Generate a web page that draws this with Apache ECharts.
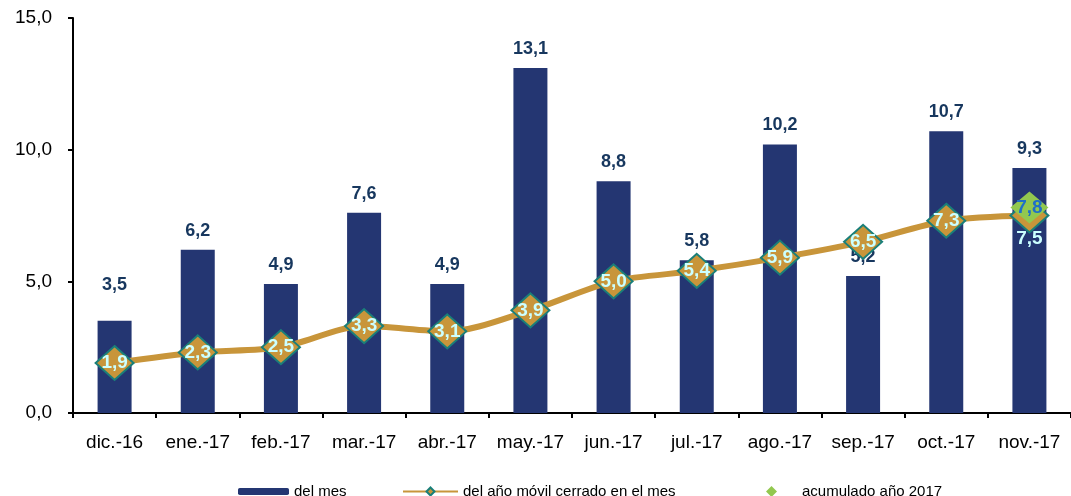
<!DOCTYPE html>
<html>
<head>
<meta charset="utf-8">
<script src="https://cdn.jsdelivr.net/npm/echarts@6/dist/echarts.min.js"></script>
<style>
  html, body { margin: 0; padding: 0; background: #fff; }
  #main { width: 1071px; height: 496px; }
</style>
</head>
<body>
<div id="main"></div>
<script>
// datos
const meses = ['dic.-16', 'ene.-17', 'feb.-17', 'mar.-17', 'abr.-17', 'may.-17', 'jun.-17', 'jul.-17', 'ago.-17', 'sep.-17', 'oct.-17', 'nov.-17']
const delMes = [3.5, 6.2, 4.9, 7.6, 4.9, 13.1, 8.8, 5.8, 10.2, 5.2, 10.7, 9.3]
const anoMovil = [1.9, 2.3, 2.5, 3.3, 3.1, 3.9, 5.0, 5.4, 5.9, 6.5, 7.3, 7.5]
const acumuladoMes = 'nov.-17'
const acumuladoValor = 7.8
const yTicks = [0, 5, 10, 15]

const coma = v => Number(v).toFixed(1).replace('.', ',')
const FONT = 'Liberation Sans, Arial, sans-serif'

const myChart = echarts.init(document.getElementById('main'))

// barras: la primera etiqueta va un poco mas arriba (como en el original)
const barData = delMes.map((v, i) => i === 0 ? { value: v, label: { offset: [0, -17] } } : v)
// linea: la ultima etiqueta va debajo del rombo
const lineData = anoMovil.map((v, i) => i === anoMovil.length - 1
  ? { value: v, label: { position: 'bottom', distance: -4 } }
  : v)

myChart.setOption({
  backgroundColor: '#fff',
  animation: false,
  textStyle: { fontFamily: FONT },
  grid: { left: 73, right: -5, top: 18, bottom: 83, containLabel: false },
  legend: [
    {
      data: ['del mes'], left: 233, top: 479, itemWidth: 51, itemHeight: 7, itemGap: 5,
      textStyle: { fontSize: 15, color: '#000', fontFamily: FONT }
    },
    {
      data: ['del año móvil cerrado en el mes'], left: 397, top: 479, itemWidth: 55, itemHeight: 10,
      textStyle: { fontSize: 15, color: '#000', fontFamily: FONT }
    },
    {
      data: ['acumulado año 2017'], left: 761, top: 479, itemWidth: 11, itemHeight: 11,
      textStyle: { fontSize: 15, color: '#000', fontFamily: FONT, padding: [0, 0, 0, 20] }
    }
  ],
  xAxis: {
    type: 'category',
    data: meses,
    axisLine: { lineStyle: { color: '#000', width: 2 } },
    axisTick: { show: true, length: 5, lineStyle: { color: '#000', width: 2 } },
    axisLabel: { interval: 0, color: '#000', fontSize: 19, margin: 20, fontFamily: FONT }
  },
  yAxis: {
    type: 'value',
    min: yTicks[0],
    max: yTicks[yTicks.length - 1],
    interval: yTicks[1] - yTicks[0],
    axisLine: { show: true, lineStyle: { color: '#000', width: 2 } },
    axisTick: { show: true, length: 5, lineStyle: { color: '#000', width: 2 } },
    splitLine: { show: false },
    axisLabel: { color: '#000', fontSize: 19, margin: 21, fontFamily: FONT, formatter: v => coma(v) }
  },
  series: [
    {
      name: 'del mes',
      type: 'bar',
      data: barData,
      barWidth: 34,
      itemStyle: { color: '#243672' },
      label: {
        show: true,
        position: 'top',
        distance: 10,
        color: '#17375E',
        fontWeight: 'bold',
        fontSize: 18,
        fontFamily: FONT,
        formatter: p => coma(p.value)
      },
      z: 1
    },
    {
      name: 'del año móvil cerrado en el mes',
      type: 'line',
      data: lineData,
      smooth: 0.3,
      symbol: 'diamond',
      symbolSize: [38, 34],
      lineStyle: { color: '#C8953A', width: 6 },
      itemStyle: { color: '#C8953A', borderColor: '#1A7F79', borderWidth: 2 },
      label: {
        show: true,
        position: 'inside',
        color: '#CCFFFF',
        fontWeight: 'bold',
        fontSize: 19,
        fontFamily: FONT,
        formatter: p => coma(p.value)
      },
      z: 3
    },
    {
      name: 'acumulado año 2017',
      type: 'scatter',
      data: [[acumuladoMes, acumuladoValor]],
      symbol: 'diamond',
      symbolSize: [38, 32],
      itemStyle: { color: '#92C84F', opacity: 1 },
      label: {
        show: true,
        position: 'inside',
        color: '#1F6FC8',
        fontWeight: 'bold',
        fontSize: 19,
        fontFamily: FONT,
        formatter: p => coma(p.value[1])
      },
      z: 5
    }
  ]
})
</script>
</body>
</html>
